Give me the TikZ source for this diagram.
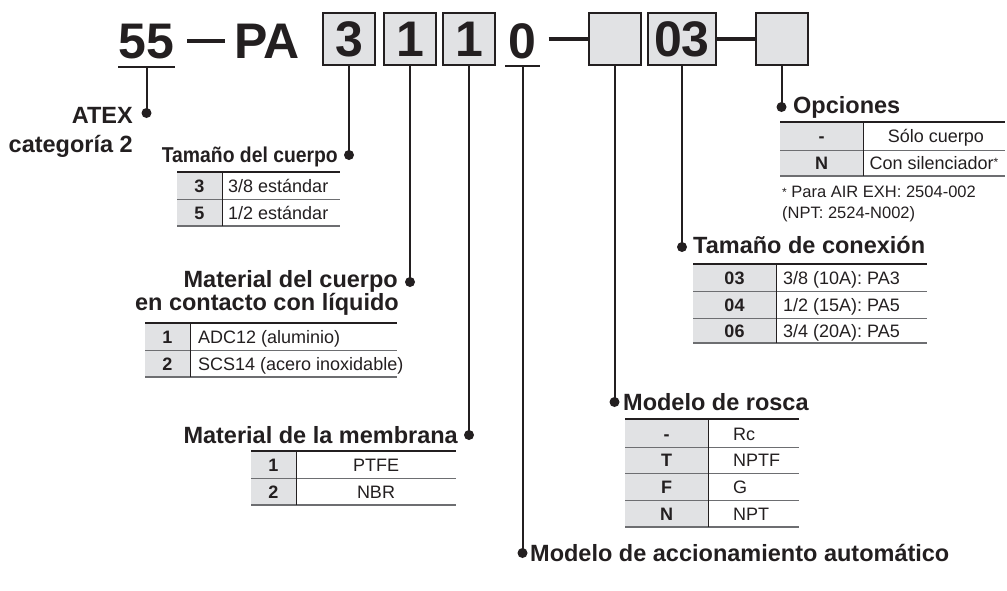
\documentclass[tikz,border=0pt]{standalone}
\usepackage{fontspec}
\setmainfont{Liberation Sans}
\newfontfamily\condfont[FakeStretch=0.9]{Liberation Sans}
\usetikzlibrary{calc}
\definecolor{ink}{HTML}{231F20}
\definecolor{cellgray}{HTML}{E1E2E4}
\definecolor{rulegray}{HTML}{6D6E71}
\begin{document}
\begin{tikzpicture}[x=1pt,y=-1pt,
  big/.style={font=\fontsize{50}{50}\selectfont\bfseries, text=ink, inner sep=0},
  codebox/.style={draw=ink, line width=2, fill=cellgray, minimum width=52, minimum height=52, inner sep=0, big},
  lbl/.style={font=\fontsize{23.5}{23.5}\selectfont\bfseries, text=ink, inner sep=0},
  condlbl/.style={font=\fontsize{21.5}{21.5}\selectfont\condfont\bfseries, text=ink, inner sep=0},
  cell/.style={font=\fontsize{18}{18}\selectfont, text=ink, inner sep=0, anchor=base},
  cellb/.style={font=\fontsize{18}{18}\selectfont\bfseries, text=ink, inner sep=0, anchor=base},
  note/.style={font=\fontsize{16.5}{16.5}\selectfont, text=ink, inner sep=0, anchor=base west},
  dotmark/.style={circle, fill=ink, inner sep=0, minimum size=10},
  conn/.style={draw=ink, line width=2},
  dashline/.style={draw=ink, line width=3.5},
  toprule/.style={draw=ink, line width=2},
  midrule/.style={draw=rulegray, line width=1},
  botrule/.style={draw=rulegray, line width=1.4},
  colrule/.style={draw=ink, line width=1}]
\useasboundingbox (0,0) rectangle (1007,590);

% ---------- header code ----------
\node[big, anchor=base] (n55) at (146.5,58) {55};
\draw[conn] ($(n55.base west)+(0,9)$) -- ($(n55.base east)+(0,9)$);
\coordinate (u55) at ($(n55.base)+(0,9)$);
\coordinate (da) at (187,41);
\coordinate (db) at (225,41);
\draw[dashline] (da) -- (db);
\node[big, anchor=base] (nPA) at (267,58) {PA};
\node[codebox] (b3) at (349,39) {3};
\node[codebox] (b1) at (410,39) {1};
\node[codebox] (b1b) at (469,39) {1};
\node[big, anchor=base] (n0) at (522.5,58) {0};
\draw[conn] ($(n0.base west)+(-3,8)$) -- ($(n0.base east)+(3,8)$);
\coordinate (u0) at ($(n0.base)+(0,8)$);
\node[codebox] (bE) at (614.5,39) {};
\coordinate (dc) at ($(bE.west)+(-39,0)$);
\draw[dashline] (dc) -- (bE.west);
\node[codebox, minimum width=68] (b03) at (682,39) {03};
\node[codebox] (bL) at (781.5,39) {};
\draw[dashline] (b03.east) -- (bL.west);

% ---------- dots ----------
\node[dotmark] (dA) at (146.5,113) {};
\node[dotmark] (dT) at (349,155) {};
\node[dotmark] (dM) at (410,282) {};
\node[dotmark] (dMe) at (469,435) {};
\node[dotmark] (dAc) at (522.5,553) {};
\node[dotmark] (dR) at (614.5,402) {};
\node[dotmark] (dC) at (682,247) {};
\node[dotmark] (dO) at (781.5,107) {};

% ---------- connectors ----------
\draw[conn] (u55) -- (dA.center);
\draw[conn] (b3.south) -- (dT.center);
\draw[conn] (b1.south) -- (dM.center);
\draw[conn] (b1b.south) -- (dMe.center);
\draw[conn] (u0) -- (dAc.center);
\draw[conn] (bE.south) -- (dR.center);
\draw[conn] (b03.south) -- (dC.center);
\draw[conn] (bL.south) -- (dO.center);

% ---------- labels ----------
\node[lbl, anchor=base east] (tA1) at (133,123) {ATEX};
\node[lbl, anchor=base east] (tA2) at (133,152) {categoría 2};
\node[condlbl, anchor=base east] (tT) at (338,162) {Tamaño del cuerpo};
\node[lbl, anchor=base east] (tM1) at (398,287) {Material del cuerpo};
\node[lbl, anchor=base east] (tM2) at (399,310) {en contacto con líquido};
\node[lbl, anchor=base east] (tMe) at (458,443) {Material de la membrana};
\node[lbl, anchor=base west] (tAc) at (530,561) {Modelo de accionamiento automático};
\node[lbl, anchor=base west] (tR) at (623,410) {Modelo de rosca};
\node[lbl, anchor=base west] (tC) at (693,253) {Tamaño de conexión};
\node[lbl, anchor=base west] (tO) at (793,113) {Opciones};

% ---------- table: Tamaño del cuerpo ----------
\fill[cellgray] (177,172) rectangle (222,226);
\draw[midrule] (177,199) -- (340,199);
\draw[botrule] (177,226) -- (340,226);
\draw[colrule] (222,172) -- (222,226);
\draw[toprule] (177,172) -- (340,172);
\node[cellb] (c1a) at (199.5,192.5) {3};
\node[cell, anchor=base west] (c1b) at (228,192.5) {3/8 estándar};
\node[cellb] (c1c) at (199.5,219.5) {5};
\node[cell, anchor=base west] (c1d) at (228,219.5) {1/2 estándar};

% ---------- table: Material del cuerpo ----------
\fill[cellgray] (145,323) rectangle (190,377);
\draw[midrule] (145,350) -- (397,350);
\draw[botrule] (145,377) -- (397,377);
\draw[colrule] (190,323) -- (190,377);
\draw[toprule] (145,323) -- (397,323);
\node[cellb] (c2a) at (167.5,343.5) {1};
\node[cell, anchor=base west] (c2b) at (198,343.5) {ADC12 (aluminio)};
\node[cellb] (c2c) at (167.5,370.5) {2};
\node[cell, anchor=base west] (c2d) at (198,370.5) {SCS14 (acero inoxidable)};

% ---------- table: Material de la membrana ----------
\fill[cellgray] (251,451) rectangle (296,505);
\draw[midrule] (251,478) -- (456,478);
\draw[botrule] (251,505) -- (456,505);
\draw[colrule] (296,451) -- (296,505);
\draw[toprule] (251,451) -- (456,451);
\node[cellb] (c3a) at (273.5,471.5) {1};
\node[cell] (c3b) at (376,471.5) {PTFE};
\node[cellb] (c3c) at (273.5,498.5) {2};
\node[cell] (c3d) at (376,498.5) {NBR};

% ---------- table: Opciones ----------
\fill[cellgray] (780,122) rectangle (863,176);
\draw[midrule] (780,150) -- (1005,150);
\draw[botrule] (780,176) -- (1005,176);
\draw[colrule] (863,122) -- (863,176);
\draw[toprule] (780,122) -- (1005,122);
\node[cellb] (c4a) at (821.5,142.5) {-};
\node[cell] (c4b) at (936,142.5) {Sólo cuerpo};
\node[cellb] (c4c) at (821.5,169) {N};
\node[cell] (c4d) at (934,169) {Con silenciador{\fontsize{12}{12}\selectfont\raisebox{3pt}{*}}};
\node[note] (f1) at (782,197) {{\fontsize{12}{12}\selectfont\raisebox{1pt}{*}} Para AIR EXH: 2504-002};
\node[note] (f2) at (782,218) {(NPT: 2524-N002)};

% ---------- table: Tamaño de conexión ----------
\fill[cellgray] (693,264) rectangle (776,343);
\draw[midrule] (693,291) -- (927,291);
\draw[midrule] (693,318) -- (927,318);
\draw[botrule] (693,343) -- (927,343);
\draw[colrule] (776,264) -- (776,343);
\draw[toprule] (693,264) -- (927,264);
\node[cellb] (c5a) at (734.5,284.5) {03};
\node[cell, anchor=base west] (c5b) at (783,284.5) {3/8 (10A): PA3};
\node[cellb] (c5c) at (734.5,311.5) {04};
\node[cell, anchor=base west] (c5d) at (783,311.5) {1/2 (15A): PA5};
\node[cellb] (c5e) at (734.5,337) {06};
\node[cell, anchor=base west] (c5f) at (783,337) {3/4 (20A): PA5};

% ---------- table: Modelo de rosca ----------
\fill[cellgray] (625,419) rectangle (708,527);
\draw[midrule] (625,447) -- (799,447);
\draw[midrule] (625,473) -- (799,473);
\draw[midrule] (625,500) -- (799,500);
\draw[botrule] (625,527) -- (799,527);
\draw[colrule] (708,419) -- (708,527);
\draw[toprule] (625,419) -- (799,419);
\node[cellb] (c6a) at (666.5,440) {-};
\node[cell, anchor=base west] (c6b) at (733,440) {Rc};
\node[cellb] (c6c) at (666.5,466.5) {T};
\node[cell, anchor=base west] (c6d) at (733,466.5) {NPTF};
\node[cellb] (c6e) at (666.5,493.5) {F};
\node[cell, anchor=base west] (c6f) at (733,493.5) {G};
\node[cellb] (c6g) at (666.5,520.5) {N};
\node[cell, anchor=base west] (c6h) at (733,520.5) {NPT};
\end{tikzpicture}
\end{document}
